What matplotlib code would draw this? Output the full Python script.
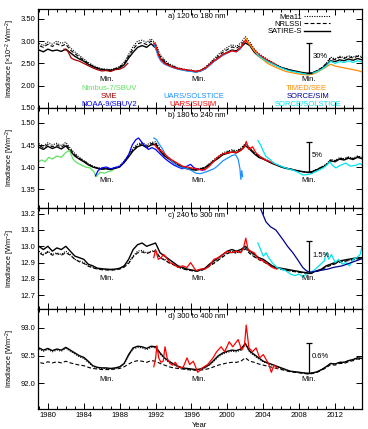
import numpy as np
import matplotlib
matplotlib.use('Agg')
import matplotlib.pyplot as plt
from matplotlib.ticker import MultipleLocator, FormatStrFormatter
from matplotlib.lines import Line2D

plt.rcParams['font.family'] = 'Liberation Sans'
plt.rcParams['font.size'] = 5.5
plt.rcParams['mathtext.fontset'] = 'custom'
plt.rcParams['mathtext.rm'] = 'Liberation Sans'
plt.rcParams['mathtext.it'] = 'Liberation Sans'

# model grid: half-year steps 1978.5 .. 2015.5
yr_mod = np.arange(1978.5, 2015.51, 0.5)

# ---- panel a: 120-180 nm (x10^-2 W m^-2)
sat_a = [2.78, 2.80, 2.76, 2.82, 2.78, 2.80, 2.77, 2.82, 2.74, 2.66,
         2.60, 2.55, 2.48, 2.43, 2.39, 2.36, 2.35, 2.34, 2.37, 2.40,
         2.47, 2.62, 2.75, 2.86, 2.90, 2.86, 2.94, 2.85, 2.62, 2.52,
         2.45, 2.42, 2.38, 2.36, 2.34, 2.33, 2.31, 2.33, 2.38, 2.46,
         2.55, 2.62, 2.70, 2.75, 2.80, 2.78, 2.86, 2.96, 2.90, 2.75,
         2.66, 2.60, 2.55, 2.50, 2.45, 2.41, 2.38, 2.35, 2.33, 2.31,
         2.29, 2.28, 2.29, 2.33, 2.38, 2.45, 2.56, 2.54, 2.58, 2.56,
         2.60, 2.57, 2.61, 2.58, 2.58]
mea_a = [2.92, 2.95, 2.90, 2.98, 2.93, 3.00, 2.95, 2.98, 2.85, 2.76,
         2.68, 2.60, 2.52, 2.46, 2.41, 2.38, 2.37, 2.36, 2.39, 2.43,
         2.53, 2.70, 2.88, 3.00, 3.02, 2.97, 3.05, 2.95, 2.70, 2.58,
         2.49, 2.45, 2.40, 2.38, 2.36, 2.35, 2.33, 2.35, 2.41, 2.50,
         2.60, 2.70, 2.79, 2.86, 2.92, 2.88, 2.96, 3.10, 2.98, 2.82,
         2.72, 2.65, 2.59, 2.53, 2.47, 2.42, 2.38, 2.35, 2.33, 2.30,
         2.28, 2.27, 2.28, 2.33, 2.40, 2.50, 2.64, 2.60, 2.66, 2.63,
         2.67, 2.64, 2.68, 2.65, 2.65]
nrl_a = [2.85, 2.90, 2.86, 2.93, 2.88, 2.94, 2.89, 2.93, 2.80, 2.72,
         2.64, 2.57, 2.50, 2.44, 2.40, 2.37, 2.36, 2.35, 2.38, 2.42,
         2.50, 2.66, 2.82, 2.94, 2.97, 2.92, 3.00, 2.90, 2.66, 2.55,
         2.47, 2.43, 2.39, 2.37, 2.35, 2.34, 2.32, 2.34, 2.40, 2.48,
         2.58, 2.66, 2.75, 2.81, 2.87, 2.84, 2.91, 3.03, 2.94, 2.79,
         2.69, 2.62, 2.57, 2.51, 2.46, 2.41, 2.38, 2.35, 2.33, 2.30,
         2.28, 2.27, 2.29, 2.34, 2.40, 2.49, 2.62, 2.58, 2.64, 2.61,
         2.65, 2.62, 2.66, 2.63, 2.63]

sme_yr = [1981.8, 1982.2, 1982.6, 1983.0, 1983.5, 1984.0, 1984.5, 1985.0,
          1985.5, 1986.0, 1986.5, 1987.0, 1987.5, 1988.0, 1988.5, 1988.9]
sme_a = [2.82, 2.78, 2.62, 2.58, 2.55, 2.50, 2.45, 2.40,
         2.36, 2.33, 2.34, 2.32, 2.36, 2.37, 2.42, 2.50]

usol_yr_a = [1991.8, 1992.0, 1992.3, 1992.6, 1993.0, 1993.5, 1994.0, 1994.5,
             1995.0, 1995.5, 1996.0, 1996.5, 1997.0, 1997.5, 1998.0, 1998.5,
             1999.0, 1999.5, 2000.0, 2000.5, 2001.0, 2001.5]
usol_a = [2.95, 2.85, 2.65, 2.55, 2.48, 2.44, 2.40, 2.37,
          2.35, 2.33, 2.32, 2.30, 2.33, 2.37, 2.45, 2.54,
          2.61, 2.68, 2.73, 2.78, 2.76, 2.83]

susim_yr_a = [1991.8, 1992.0, 1992.3, 1992.6, 1993.0, 1993.5, 1994.0, 1994.5,
              1995.0, 1995.5, 1996.0, 1996.5, 1997.0, 1997.5, 1998.0, 1998.5,
              1999.0, 1999.5, 2000.0, 2000.5, 2001.0, 2001.5, 2002.0, 2002.3,
              2002.7, 2003.0, 2003.5, 2004.0, 2004.5, 2005.0, 2005.5]
susim_a = [2.96, 2.92, 2.70, 2.58, 2.50, 2.45, 2.41, 2.38,
           2.37, 2.35, 2.34, 2.32, 2.34, 2.39, 2.47, 2.56,
           2.62, 2.70, 2.74, 2.78, 2.76, 2.86, 3.02, 2.95,
           2.88, 2.80, 2.70, 2.63, 2.57, 2.51, 2.46]

see_yr = [2002.1, 2002.3, 2002.6, 2003.0, 2003.5, 2004.0, 2004.5, 2005.0,
          2005.5, 2006.0, 2006.5, 2007.0, 2007.5, 2008.0, 2008.5, 2009.0,
          2009.5, 2010.0, 2010.5, 2011.0, 2011.5, 2012.0, 2012.5, 2013.0,
          2013.5, 2014.0, 2014.5, 2015.0, 2015.5]
see_a = [3.06, 2.98, 2.90, 2.78, 2.66, 2.58, 2.50, 2.45,
         2.40, 2.36, 2.32, 2.30, 2.28, 2.26, 2.25, 2.24,
         2.26, 2.30, 2.36, 2.42, 2.48, 2.44, 2.42, 2.40,
         2.38, 2.36, 2.34, 2.31, 2.30]

ssol_yr_a = [2003.3, 2003.6, 2004.0, 2004.5, 2005.0, 2005.5, 2006.0, 2006.5,
             2007.0, 2007.5, 2008.0, 2008.5, 2009.0, 2009.5, 2010.0, 2010.5,
             2011.0, 2011.5, 2012.0, 2012.5, 2013.0, 2013.5, 2014.0, 2014.5,
             2015.0, 2015.5]
ssol_a = [2.72, 2.65, 2.60, 2.54, 2.49, 2.44, 2.40, 2.36,
          2.33, 2.31, 2.29, 2.27, 2.26, 2.28, 2.32, 2.37,
          2.44, 2.55, 2.50, 2.54, 2.52, 2.56, 2.52, 2.56,
          2.53, 2.53]

# ---- panel b: 180-240 nm
sat_b = [1.440, 1.445, 1.440, 1.447, 1.442, 1.446, 1.441, 1.448, 1.436, 1.425,
         1.418, 1.412, 1.405, 1.400, 1.397, 1.395, 1.396, 1.394, 1.397, 1.400,
         1.410, 1.423, 1.437, 1.446, 1.450, 1.444, 1.450, 1.452, 1.436, 1.425,
         1.418, 1.410, 1.404, 1.399, 1.396, 1.394, 1.393, 1.395, 1.398, 1.405,
         1.413, 1.420, 1.428, 1.431, 1.434, 1.432, 1.438, 1.449, 1.440, 1.430,
         1.422, 1.418, 1.413, 1.408, 1.404, 1.400, 1.397, 1.395, 1.393, 1.391,
         1.389, 1.388, 1.390, 1.394, 1.399, 1.404, 1.414, 1.412, 1.418, 1.416,
         1.420, 1.417, 1.422, 1.419, 1.419]
mea_b = [1.448, 1.453, 1.448, 1.455, 1.450, 1.454, 1.449, 1.456, 1.443, 1.431,
         1.422, 1.415, 1.408, 1.402, 1.399, 1.397, 1.397, 1.396, 1.399, 1.403,
         1.414, 1.428, 1.443, 1.452, 1.456, 1.450, 1.456, 1.457, 1.441, 1.429,
         1.421, 1.413, 1.406, 1.401, 1.398, 1.396, 1.395, 1.397, 1.400, 1.408,
         1.417, 1.424, 1.432, 1.436, 1.439, 1.437, 1.443, 1.453, 1.444, 1.433,
         1.425, 1.420, 1.415, 1.410, 1.405, 1.401, 1.398, 1.396, 1.393, 1.391,
         1.389, 1.388, 1.390, 1.395, 1.400, 1.406, 1.417, 1.415, 1.421, 1.419,
         1.423, 1.420, 1.425, 1.422, 1.422]
nrl_b = [1.444, 1.449, 1.444, 1.451, 1.446, 1.450, 1.445, 1.452, 1.440, 1.428,
         1.420, 1.414, 1.407, 1.401, 1.398, 1.396, 1.396, 1.395, 1.398, 1.401,
         1.412, 1.425, 1.440, 1.449, 1.453, 1.447, 1.453, 1.455, 1.439, 1.427,
         1.420, 1.412, 1.405, 1.400, 1.397, 1.395, 1.394, 1.396, 1.399, 1.406,
         1.415, 1.422, 1.430, 1.434, 1.437, 1.435, 1.441, 1.451, 1.442, 1.432,
         1.424, 1.419, 1.414, 1.409, 1.405, 1.401, 1.398, 1.396, 1.393, 1.391,
         1.389, 1.388, 1.390, 1.395, 1.400, 1.405, 1.416, 1.414, 1.420, 1.418,
         1.422, 1.419, 1.424, 1.421, 1.421]

nim_yr = [1978.9, 1979.3, 1979.7, 1980.1, 1980.5, 1981.0, 1981.5, 1982.0,
          1982.4, 1982.8, 1983.2, 1983.7, 1984.2, 1984.7, 1985.1, 1985.4,
          1985.8, 1986.3, 1986.8, 1987.2]
nim_b = [1.411, 1.416, 1.412, 1.422, 1.418, 1.425, 1.422, 1.433,
         1.438, 1.418, 1.410, 1.405, 1.400, 1.398, 1.390, 1.378,
         1.388, 1.386, 1.390, 1.392]

noaa_yr = [1985.3, 1985.6, 1986.0, 1986.5, 1987.0, 1987.5, 1988.0, 1988.5,
           1989.0, 1989.4, 1989.8, 1990.1, 1990.4, 1990.8, 1991.2, 1991.6,
           1992.0, 1992.5, 1993.0, 1993.5, 1994.0, 1994.5, 1995.0, 1995.5,
           1995.9, 1996.3, 1996.8, 1997.2, 1997.5]
noaa_b = [1.380, 1.392, 1.398, 1.400, 1.396, 1.399, 1.401, 1.412,
          1.428, 1.450, 1.462, 1.466, 1.458, 1.448, 1.440, 1.444,
          1.440, 1.430, 1.420, 1.412, 1.405, 1.400, 1.396, 1.402,
          1.406, 1.398, 1.395, 1.393, 1.394]

usol_yr_b = [1991.8, 1992.1, 1992.4, 1992.8, 1993.1, 1993.5, 1994.0, 1994.5,
             1995.0, 1995.5, 1996.0, 1996.5, 1997.0, 1997.5, 1998.0, 1998.5,
             1999.0, 1999.5, 2000.0, 2000.5, 2000.9, 2001.2, 2001.4, 2001.5,
             2001.6, 2001.7]
usol_b = [1.466, 1.462, 1.452, 1.440, 1.428, 1.420, 1.410, 1.402,
          1.398, 1.397, 1.392, 1.386, 1.385, 1.388, 1.392, 1.396,
          1.404, 1.414, 1.420, 1.426, 1.428, 1.418, 1.396, 1.372,
          1.392, 1.378]

susim_yr_b = [1991.9, 1992.3, 1992.7, 1993.1, 1993.5, 1994.0, 1994.5, 1995.0,
              1995.5, 1996.0, 1996.5, 1997.0, 1997.5, 1998.0, 1998.5, 1999.0,
              1999.5, 2000.0, 2000.5, 2001.0, 2001.5, 2001.9, 2002.1, 2002.4,
              2002.8, 2003.2, 2003.6, 2004.0, 2004.5, 2005.0, 2005.5]
susim_b = [1.450, 1.440, 1.436, 1.428, 1.420, 1.414, 1.408, 1.402,
           1.400, 1.398, 1.396, 1.394, 1.394, 1.402, 1.414, 1.424,
           1.430, 1.432, 1.434, 1.433, 1.438, 1.445, 1.458, 1.440,
           1.446, 1.432, 1.425, 1.418, 1.414, 1.410, 1.405]

ssol_yr_b = [2003.4, 2003.7, 2004.0, 2004.3, 2004.7, 2005.1, 2005.6, 2006.2,
             2006.8, 2007.3, 2007.9, 2008.4, 2009.0, 2009.5, 2010.1, 2010.7,
             2011.1, 2011.4, 2011.8, 2012.1, 2012.6, 2013.2, 2013.7, 2014.3,
             2014.8, 2015.3]
ssol_b = [1.460, 1.450, 1.436, 1.424, 1.418, 1.410, 1.405, 1.400,
          1.396, 1.393, 1.388, 1.382, 1.383, 1.386, 1.392, 1.398,
          1.405, 1.412, 1.402, 1.398, 1.404, 1.409, 1.402, 1.404,
          1.408, 1.400]

# ---- panel c: 240-300 nm
sat_c = [12.99, 13.00, 12.98, 13.00, 12.97, 12.99, 12.98, 13.00, 12.97, 12.94,
         12.93, 12.92, 12.89, 12.88, 12.866, 12.862, 12.860, 12.858, 12.860, 12.865,
         12.88, 12.92, 12.98, 13.01, 13.02, 13.00, 13.01, 13.02, 12.96, 12.94,
         12.92, 12.90, 12.88, 12.87, 12.86, 12.855, 12.85, 12.855, 12.865, 12.89,
         12.91, 12.93, 12.95, 12.97, 12.98, 12.97, 12.98, 13.00, 12.97, 12.95,
         12.93, 12.92, 12.90, 12.88, 12.87, 12.865, 12.86, 12.855, 12.85, 12.845,
         12.84, 12.838, 12.842, 12.85, 12.86, 12.88, 12.89, 12.90, 12.91, 12.915,
         12.92, 12.925, 12.93, 12.93, 12.93]
mea_c = [12.96, 12.97, 12.95, 12.97, 12.95, 12.96, 12.95, 12.97, 12.95, 12.92,
         12.91, 12.90, 12.88, 12.87, 12.862, 12.858, 12.856, 12.855, 12.857, 12.862,
         12.875, 12.90, 12.94, 12.97, 12.975, 12.96, 12.97, 12.975, 12.93, 12.92,
         12.90, 12.89, 12.875, 12.865, 12.857, 12.852, 12.848, 12.852, 12.862, 12.88,
         12.90, 12.92, 12.94, 12.96, 12.97, 12.96, 12.97, 12.99, 12.96, 12.94,
         12.92, 12.91, 12.895, 12.878, 12.866, 12.86, 12.855, 12.85, 12.846, 12.842,
         12.838, 12.836, 12.84, 12.848, 12.858, 12.875, 12.885, 12.895, 12.905, 12.91,
         12.915, 12.92, 12.925, 12.925, 12.925]
nrl_c = [12.95, 12.96, 12.945, 12.965, 12.945, 12.955, 12.945, 12.96, 12.945, 12.92,
         12.905, 12.895, 12.878, 12.868, 12.86, 12.856, 12.855, 12.853, 12.856, 12.86,
         12.872, 12.895, 12.935, 12.96, 12.965, 12.955, 12.965, 12.97, 12.93, 12.915,
         12.898, 12.886, 12.872, 12.862, 12.855, 12.85, 12.846, 12.85, 12.86, 12.878,
         12.895, 12.915, 12.935, 12.955, 12.965, 12.958, 12.965, 12.985, 12.955, 12.935,
         12.918, 12.905, 12.89, 12.875, 12.864, 12.858, 12.853, 12.848, 12.844, 12.84,
         12.836, 12.834, 12.838, 12.846, 12.856, 12.872, 12.882, 12.892, 12.902, 12.907,
         12.912, 12.917, 12.922, 12.922, 12.922]

susim_yr_c = [1991.8, 1992.0, 1992.3, 1992.6, 1992.9, 1993.2, 1993.6, 1994.0,
              1994.5, 1995.0, 1995.5, 1995.9, 1996.5, 1997.0, 1997.5, 1998.0,
              1998.5, 1999.0, 1999.5, 2000.0, 2000.5, 2001.0, 2001.5, 2001.8,
              2002.05, 2002.3, 2002.6, 2003.0, 2003.5, 2004.0, 2004.5, 2005.0,
              2005.5]
susim_c = [12.93, 12.98, 12.92, 12.93, 12.95, 12.93, 12.90, 12.89,
           12.87, 12.88, 12.87, 12.90, 12.85, 12.86, 12.86, 12.88,
           12.92, 12.93, 12.95, 12.97, 12.96, 12.97, 12.96, 12.99,
           13.05, 12.98, 12.97, 12.96, 12.92, 12.91, 12.89, 12.87,
           12.86]

sim_yr = [2003.3, 2003.7, 2004.3, 2004.8, 2005.4, 2005.8, 2006.2, 2006.7,
          2007.3, 2007.8, 2008.4, 2008.8, 2009.2, 2009.7, 2010.2, 2010.7,
          2011.2, 2011.8, 2012.3, 2012.8, 2013.3, 2013.8, 2014.3, 2014.8,
          2015.3]
sim_c = [13.40, 13.23, 13.15, 13.12, 13.10, 13.07, 13.04, 13.00,
         12.96, 12.92, 12.87, 12.85, 12.84, 12.845, 12.85, 12.855,
         12.86, 12.87, 12.875, 12.88, 12.89, 12.90, 12.91, 12.92,
         12.93]

ssol_yr_c = [2003.4, 2003.7, 2004.0, 2004.3, 2004.6, 2005.0, 2005.5, 2006.0,
             2006.5, 2007.0, 2007.5, 2008.0, 2008.4, 2008.8, 2009.2, 2009.6,
             2010.0, 2010.4, 2010.8, 2011.0, 2011.3, 2011.6, 2012.0, 2012.4,
             2012.8, 2013.2, 2013.6, 2014.0, 2014.4, 2014.8, 2015.0, 2015.3]
ssol_c = [13.02, 12.98, 12.94, 12.96, 12.93, 12.90, 12.87, 12.86,
          12.85, 12.83, 12.82, 12.83, 12.81, 12.83, 12.84, 12.85,
          12.87, 12.89, 12.91, 12.96, 12.92, 12.95, 12.90, 12.92,
          12.89, 12.90, 12.88, 12.92, 12.93, 12.95, 13.00, 12.96]

# ---- panel d: 300-400 nm
sat_d = [92.60, 92.64, 92.60, 92.63, 92.59, 92.62, 92.60, 92.65, 92.60, 92.55,
         92.50, 92.47, 92.40, 92.32, 92.29, 92.28, 92.28, 92.27, 92.28, 92.30,
         92.36, 92.52, 92.64, 92.67, 92.66, 92.63, 92.67, 92.66, 92.55, 92.46,
         92.40, 92.35, 92.31, 92.28, 92.27, 92.26, 92.25, 92.26, 92.29, 92.34,
         92.42, 92.50, 92.55, 92.58, 92.60, 92.59, 92.62, 92.72, 92.58, 92.52,
         92.46, 92.40, 92.37, 92.34, 92.31, 92.28, 92.25, 92.22, 92.21, 92.20,
         92.19, 92.18, 92.19, 92.21, 92.25, 92.30, 92.36, 92.35, 92.38, 92.38,
         92.41, 92.43, 92.46, 92.45, 92.45]
mea_d = [92.58, 92.62, 92.58, 92.61, 92.57, 92.60, 92.58, 92.63, 92.58, 92.53,
         92.48, 92.45, 92.38, 92.31, 92.28, 92.27, 92.27, 92.26, 92.27, 92.29,
         92.35, 92.50, 92.62, 92.65, 92.64, 92.61, 92.65, 92.64, 92.53, 92.44,
         92.38, 92.34, 92.30, 92.27, 92.26, 92.25, 92.24, 92.25, 92.28, 92.33,
         92.40, 92.48, 92.53, 92.56, 92.58, 92.57, 92.60, 92.70, 92.56, 92.50,
         92.44, 92.39, 92.36, 92.33, 92.30, 92.27, 92.24, 92.22, 92.21, 92.20,
         92.19, 92.18, 92.19, 92.21, 92.25, 92.30, 92.36, 92.35, 92.38, 92.38,
         92.41, 92.43, 92.46, 92.45, 92.45]
nrl_d = [92.36, 92.38, 92.36, 92.39, 92.37, 92.39, 92.37, 92.40, 92.37, 92.35,
         92.33, 92.32, 92.29, 92.27, 92.26, 92.25, 92.25, 92.25, 92.26, 92.27,
         92.30, 92.35, 92.39, 92.41, 92.40, 92.38, 92.41, 92.40, 92.36, 92.33,
         92.30, 92.28, 92.27, 92.26, 92.25, 92.24, 92.24, 92.24, 92.25, 92.27,
         92.30, 92.33, 92.35, 92.37, 92.38, 92.38, 92.40, 92.46, 92.40, 92.38,
         92.35, 92.33, 92.31, 92.29, 92.27, 92.25, 92.23, 92.21, 92.20, 92.19,
         92.18, 92.17, 92.18, 92.20, 92.24, 92.28, 92.34, 92.33, 92.36, 92.36,
         92.39, 92.41, 92.44, 92.43, 92.43]

susim_yr_d = [1991.8, 1992.0, 1992.15, 1992.35, 1992.6, 1992.85, 1993.05, 1993.3,
              1993.6, 1993.9, 1994.2, 1994.5, 1994.8, 1995.1, 1995.5, 1995.8,
              1996.2, 1996.7, 1997.2, 1997.8, 1998.4, 1998.8, 1999.3, 1999.7,
              2000.2, 2000.6, 2001.2, 2001.6, 2001.9, 2002.1, 2002.4, 2002.8,
              2003.2, 2003.6, 2004.0, 2004.6, 2004.9, 2005.2, 2005.6]
susim_d = [92.30, 92.45, 92.68, 92.46, 92.38, 92.40, 92.66, 92.45,
           92.36, 92.33, 92.38, 92.30, 92.28, 92.30, 92.46, 92.34,
           92.40, 92.20, 92.28, 92.34, 92.46, 92.57, 92.66, 92.57,
           92.75, 92.66, 92.79, 92.60, 92.68, 93.05, 92.64, 92.57,
           92.64, 92.46, 92.52, 92.35, 92.20, 92.33, 92.27]

# solar-minimum annotations
min_years = [1986.6, 1996.8, 2009.1]
min_text_y = [2.15, 1.370, 12.80, 92.07]
bar_year = 2009.1
bar_low = [2.28, 1.388, 12.838, 92.18]
bar_pct = [30, 5, 1.5, 0.6]
bar_text = ['30%', '5%', '1.5%', '0.6%']

panel_text = ['a) 120 to 180 nm', 'b) 180 to 240 nm',
              'c) 240 to 300 nm', 'd) 300 to 400 nm']
ylims = [(1.50, 3.72), (1.307, 1.534), (12.615, 13.235), (91.54, 93.34)]
yticks = [np.arange(1.5, 3.51, 0.5), np.arange(1.35, 1.501, 0.05),
          np.arange(12.7, 13.21, 0.1), np.arange(92.0, 93.01, 0.5)]
yfmt = ['%.2f', '%.2f', '%.1f', '%.1f']
ylab = [r'Irradiance [$\times$10$^{-2}$ Wm$^{-2}$]', r'Irradiance [Wm$^{-2}$]',
        r'Irradiance [Wm$^{-2}$]', r'Irradiance [Wm$^{-2}$]']

c_nim = '#5fe35f'
c_sme = '#a50000'
c_noaa = '#0000ff'
c_usol = '#1e90ff'
c_susim = '#ff0000'
c_see = '#ff8c00'
c_sim = '#00008b'
c_ssol = '#00e5ee'

fig = plt.figure(figsize=(3.68, 4.29), dpi=100)
W, H = 368.0, 429.0
left, right = 38, 362
edges = [9, 108, 208, 309, 409]
axes = []
for i in range(4):
    ax = fig.add_axes([left / W, 1 - edges[i + 1] / H,
                       (right - left) / W, (edges[i + 1] - edges[i]) / H])
    axes.append(ax)

mods = [(mea_a, nrl_a, sat_a), (mea_b, nrl_b, sat_b),
        (mea_c, nrl_c, sat_c), (mea_d, nrl_d, sat_d)]

for i, ax in enumerate(axes):
    mea, nrl, sat = mods[i]
    ax.plot(yr_mod, mea, color='k', lw=0.8, ls=(0, (1, 1.2)))
    ax.plot(yr_mod, nrl, color='k', lw=0.8, ls=(0, (3.5, 2)))
    ax.plot(yr_mod, sat, color='k', lw=1.0)

# instruments
lw_i = 0.9
axes[0].plot(sme_yr, sme_a, color=c_sme, lw=lw_i)
axes[0].plot(usol_yr_a, usol_a, color=c_usol, lw=lw_i)
axes[0].plot(susim_yr_a, susim_a, color=c_susim, lw=lw_i)
axes[0].plot(see_yr, see_a, color=c_see, lw=lw_i)
axes[0].plot(ssol_yr_a, ssol_a, color=c_ssol, lw=lw_i)

axes[1].plot(nim_yr, nim_b, color=c_nim, lw=lw_i)
axes[1].plot(noaa_yr, noaa_b, color=c_noaa, lw=lw_i)
axes[1].plot(usol_yr_b, usol_b, color=c_usol, lw=lw_i)
axes[1].plot(susim_yr_b, susim_b, color=c_susim, lw=lw_i)
axes[1].plot(ssol_yr_b, ssol_b, color=c_ssol, lw=lw_i)

axes[2].plot(susim_yr_c, susim_c, color=c_susim, lw=lw_i)
axes[2].plot(ssol_yr_c, ssol_c, color=c_ssol, lw=lw_i)
axes[2].plot(sim_yr, sim_c, color=c_sim, lw=lw_i)

axes[3].plot(susim_yr_d, susim_d, color=c_susim, lw=lw_i)

for i, ax in enumerate(axes):
    ax.set_xlim(1978.9, 2015.0)
    ax.set_ylim(*ylims[i])
    ax.set_yticks(yticks[i])
    ax.yaxis.set_major_formatter(FormatStrFormatter(yfmt[i]))
    ax.xaxis.set_major_locator(MultipleLocator(4))
    ax.xaxis.set_minor_locator(MultipleLocator(1))
    ax.tick_params(which='both', direction='in', top=True, right=True,
                   width=0.7, labelsize=5.5, pad=2)
    ax.tick_params(which='major', length=4)
    ax.tick_params(which='minor', length=2)
    for s in ax.spines.values():
        s.set_linewidth(0.9)
    if i < 3:
        ax.tick_params(labelbottom=False)
    ax.set_ylabel(ylab[i], fontsize=5.2)
    ax.yaxis.set_label_coords(-0.066, 0.5)
    ax.text(0.40, 0.925, panel_text[i], transform=ax.transAxes,
            ha='left', va='center', fontsize=5.5)
    for xm in min_years:
        ax.text(xm, min_text_y[i], 'Min.', ha='center', va='center', fontsize=5.5)
    lo = bar_low[i]
    hi = lo * (1 + bar_pct[i] / 100.0)
    ax.errorbar(bar_year, (lo + hi) / 2, yerr=(hi - lo) / 2, color='k',
                lw=0.9, capsize=2, capthick=0.9)
    ax.text(bar_year + 0.35, lo + 0.55 * (hi - lo), bar_text[i],
            ha='left', va='center', fontsize=5.5)

axes[3].set_xlabel('Year', fontsize=5.5, labelpad=2)

# model legend
handles = [Line2D([], [], color='k', lw=0.8, ls=(0, (1, 1.2))),
           Line2D([], [], color='k', lw=0.8, ls=(0, (3.5, 2))),
           Line2D([], [], color='k', lw=1.0)]
axes[0].legend(handles, ['Mea11', 'NRLSSI', 'SATIRE-S'], loc='upper right',
               bbox_to_anchor=(0.905, 0.965), frameon=False, markerfirst=False,
               fontsize=5.5, handlelength=3.4, handletextpad=0.3,
               labelspacing=0.0, borderpad=0.1, borderaxespad=0)

# instrument labels
ax = axes[0]
inst = [('Nimbus-7/SBUV', c_nim, 109, 89), ('SME', c_sme, 109, 97),
        ('NOAA-9/SBUV2', c_noaa, 109, 104),
        ('UARS/SOLSTICE', c_usol, 194, 97), ('UARS/SUSIM', c_susim, 193, 104),
        ('TIMED/SEE', c_see, 306, 89), ('SORCE/SIM', c_sim, 308, 97),
        ('SORCE/SOLSTICE', c_ssol, 308, 104)]
for name, col, px, py in inst:
    ax.text((px - left) / (right - left), (edges[1] - py) / (edges[1] - edges[0]),
            name, color=col, transform=ax.transAxes, ha='center', va='center',
            fontsize=5.5)

fig.savefig('out.png', dpi=100)
